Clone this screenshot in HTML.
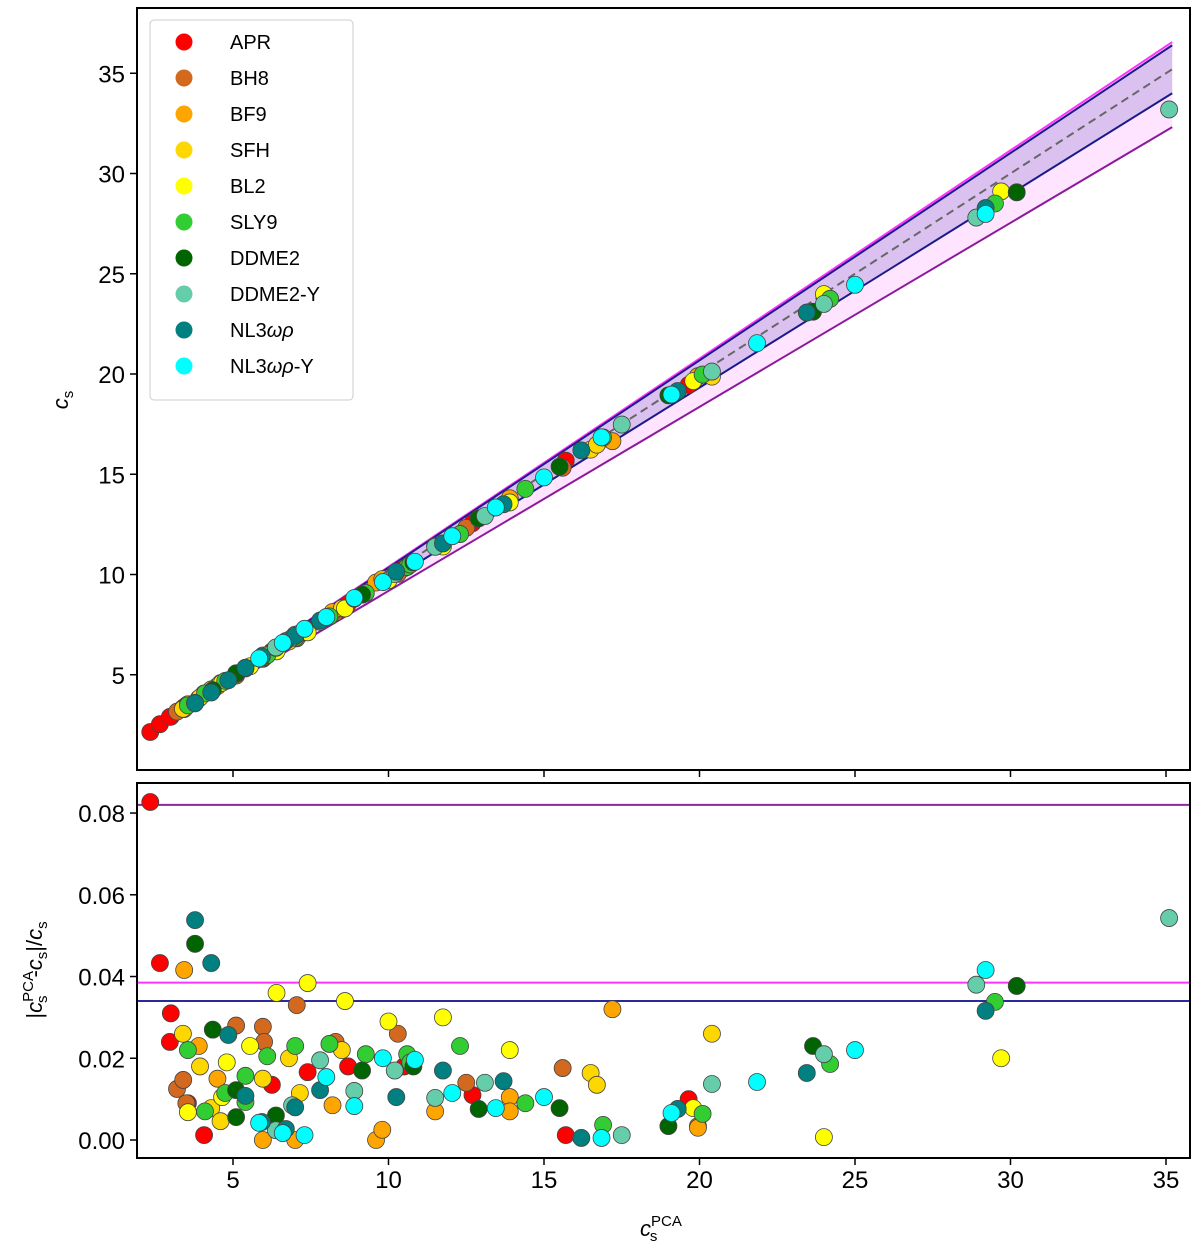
<!DOCTYPE html>
<html><head><meta charset="utf-8"><style>
html,body{margin:0;padding:0;background:#fff;}
svg{display:block;font-family:"Liberation Sans","DejaVu Sans",sans-serif;}
</style></head><body>
<svg id="chart" width="1200" height="1254" viewBox="0 0 1200 1254" xmlns="http://www.w3.org/2000/svg"></svg>
<script>
// ---- data ----
const eosNames = ["APR","BH8","BF9","SFH","BL2","SLY9","DDME2","DDME2-Y","NL3\u03c9\u03c1","NL3\u03c9\u03c1-Y"];
const eosColors = ["#ff0000","#d2691e","#ffa500","#ffd700","#ffff00","#32cd32","#006400","#66cdaa","#008080","#00ffff"];
const xAPR=[2.34,2.65,3.0,2.97,3.55,4.07,6.25,7.4,8.7,10.5,12.7,15.7,19.65];
const eAPR=[0.0827,0.0433,0.031,0.024,0.009,0.0012,0.0135,0.0166,0.018,0.018,0.011,0.0012,0.010];
const xBH8=[3.2,3.4,3.5,5.1,5.96,6.0,7.05,8.3,10.3,12.5,15.6,19.95];
const eBH8=[0.0125,0.0147,0.009,0.028,0.0277,0.024,0.033,0.024,0.026,0.014,0.0176,0.0034];
const xBF9=[3.43,3.9,4.5,5.96,7.0,8.2,9.6,9.8,11.5,13.9,13.9,17.2,19.95];
const eBF9=[0.0416,0.023,0.015,0.0,0.0,0.0085,0.0,0.0025,0.007,0.0105,0.007,0.032,0.003];
const xSFH=[3.39,3.94,4.3,4.6,5.96,6.8,7.15,8.5,16.5,16.7,20.4];
const eSFH=[0.026,0.018,0.0078,0.0046,0.015,0.020,0.0115,0.022,0.0164,0.0135,0.026];
const xBL2=[3.55,4.65,4.8,5.55,6.4,7.4,8.6,10.0,11.75,13.9,19.8,24.0,29.7];
const eBL2=[0.0068,0.0105,0.019,0.023,0.036,0.0384,0.034,0.029,0.030,0.022,0.0078,0.0007,0.020];
const xSLY9=[3.55,4.1,4.75,5.4,5.4,6.1,7.0,8.1,9.27,10.6,10.7,12.3,14.4,16.9,20.1,24.2,29.5];
const eSLY9=[0.022,0.007,0.0115,0.0157,0.0093,0.0205,0.023,0.0235,0.021,0.021,0.019,0.023,0.009,0.0037,0.0064,0.0186,0.0338];
const xDDME2=[3.78,4.35,5.1,5.1,6.38,9.15,10.8,12.9,15.5,19.0,23.65,30.2];
const eDDME2=[0.048,0.027,0.0122,0.0056,0.006,0.017,0.018,0.0076,0.0078,0.0034,0.023,0.0377];
const xDDME2Y=[6.38,6.9,7.8,8.9,10.2,11.5,13.1,17.5,20.4,24.0,28.9,35.1];
const eDDME2Y=[0.0024,0.0085,0.0195,0.012,0.017,0.0103,0.014,0.0012,0.0137,0.021,0.038,0.0543];
const xNL3=[3.78,4.3,4.85,5.4,5.93,6.7,7.0,7.8,10.25,11.75,13.7,16.2,19.3,23.45,29.2];
const eNL3=[0.0538,0.0433,0.0257,0.0108,0.0044,0.0027,0.008,0.0122,0.0105,0.017,0.0144,0.0005,0.0076,0.0164,0.0316];
const xNL3Y=[5.84,6.6,7.3,8.0,8.9,9.82,10.85,12.05,13.45,15.0,16.85,19.1,21.85,25.0,29.2];
const eNL3Y=[0.0042,0.0017,0.0012,0.0154,0.0083,0.020,0.0196,0.0115,0.0078,0.0105,0.0005,0.0066,0.0142,0.022,0.0416];
const seriesX=[xAPR,xBH8,xBF9,xSFH,xBL2,xSLY9,xDDME2,xDDME2Y,xNL3,xNL3Y];
const seriesE=[eAPR,eBH8,eBF9,eSFH,eBL2,eSLY9,eDDME2,eDDME2Y,eNL3,eNL3Y];
const xTicks=[5,10,15,20,25,30,35];
const yTopTicks=[5,10,15,20,25,30,35];
const yBotTicks=[0.00,0.02,0.04,0.06,0.08];
const errLines=[0.0385,0.034,0.082];

// ---- axes ----
const L=137,R=1190,T1=8,B1=770,T2=783,B2=1158;
const sx=v=>77.5+31.1*v;
const sy1=v=>775-20.05*v;
const sy2=v=>1140-4087*v;
const NS="http://www.w3.org/2000/svg";
const svg=document.getElementById('chart');
function mk(tag,attrs,parent){const e=document.createElementNS(NS,tag);for(const k in attrs)e.setAttribute(k,attrs[k]);(parent||svg).appendChild(e);return e;}

const defs=mk('defs',{});
const c1=mk('clipPath',{id:'c1'},defs);mk('rect',{x:L,y:T1,width:R-L,height:B1-T1},c1);
const c2=mk('clipPath',{id:'c2'},defs);mk('rect',{x:L,y:T2,width:R-L,height:B2-T2},c2);

const gTop=mk('g',{'clip-path':'url(#c1)'});


const x0=2.3,x1=35.2;
function band(lo,hi,fill,name){
  const d=`M${sx(x0)},${sy1(x0*lo)} L${sx(x1)},${sy1(x1*lo)} L${sx(x1)},${sy1(x1*hi)} L${sx(x0)},${sy1(x0*hi)} Z`;
  const p=mk('path',{d:d,fill:fill},gTop);
  
  
}
band(1-errLines[2],1+errLines[0],'rgba(255,120,255,0.2)','error-band-outer');
band(1-errLines[1],1+errLines[1],'rgba(90,70,180,0.22)','error-band-inner');
function line(f,stroke,w,name,dash){
  const l=mk('line',{x1:sx(x0),y1:sy1(x0*f),x2:sx(x1),y2:sy1(x1*f),stroke:stroke,'stroke-width':w},gTop);
  if(dash)l.setAttribute('stroke-dasharray',dash);
  
  
}
line(1+errLines[0],'#ff33ff',2,'upper-magenta-line');
line(1+errLines[1],'#1a1a8c',2,'upper-blue-line');
line(1-errLines[1],'#1a1a8c',2,'lower-blue-line');
line(1-errLines[2],'#8b1a9b',2,'lower-purple-line');
line(1,'#666',2,'identity-dashed-line','8,5');

const gBot=mk('g',{'clip-path':'url(#c2)'});


const hl=[['#ff33ff','magenta-threshold-line'],['#2a2a99','blue-threshold-line'],['#8b2a9b','purple-threshold-line']];
errLines.forEach((v,i)=>{
  const l=mk('line',{x1:L,x2:R,y1:sy2(v),y2:sy2(v),stroke:hl[i][0],'stroke-width':2},gBot);
  
  
});

seriesX.forEach((xs,s)=>{
  xs.forEach((xv,i)=>{
    const ev=seriesE[s][i];
    const c=mk('circle',{cx:sx(xv),cy:sy1(xv*(1-ev)),r:8.5,fill:eosColors[s],stroke:'#444','stroke-width':0.8},gTop);
    
    
    const d=mk('circle',{cx:sx(xv),cy:sy2(ev),r:8.5,fill:eosColors[s],stroke:'#444','stroke-width':0.8},gBot);
    
    
  });
});

const f1=mk('rect',{x:L,y:T1,width:R-L,height:B1-T1,fill:'none',stroke:'#000','stroke-width':2});

const f2=mk('rect',{x:L,y:T2,width:R-L,height:B2-T2,fill:'none',stroke:'#000','stroke-width':2});


xTicks.forEach(v=>{
  const a=mk('line',{x1:sx(v),x2:sx(v),y1:B1,y2:B1+7,stroke:'#000','stroke-width':1.5});
  
  const b=mk('line',{x1:sx(v),x2:sx(v),y1:B2,y2:B2+7,stroke:'#000','stroke-width':1.5});
  
  const t=mk('text',{x:sx(v),y:B2+30,'text-anchor':'middle','font-size':24});
  t.textContent=v;
});
yTopTicks.forEach(v=>{
  const a=mk('line',{x1:L-7,x2:L,y1:sy1(v),y2:sy1(v),stroke:'#000','stroke-width':1.5});
  
  const t=mk('text',{x:L-12,y:sy1(v)+9,'text-anchor':'end','font-size':24});
  t.textContent=v;
});
yBotTicks.forEach(v=>{
  const a=mk('line',{x1:L-7,x2:L,y1:sy2(v),y2:sy2(v),stroke:'#000','stroke-width':1.5});
  
  const t=mk('text',{x:L-12,y:sy2(v)+9,'text-anchor':'end','font-size':24});
  t.textContent=v.toFixed(2);
});

const lg=mk('g',{});

mk('rect',{x:150,y:20,width:203,height:380,rx:4,fill:'#fff','fill-opacity':0.85,stroke:'#ccc','stroke-width':1},lg);
eosNames.forEach((n,i)=>{
  const y=42+i*36;
  const c=mk('circle',{cx:184,cy:y,r:8.5,fill:eosColors[i]},lg);
  
  const t=mk('text',{x:230,y:y+7,'font-size':20},lg);
  if(n.indexOf('\u03c9')>=0){
    const parts=n.split('\u03c9\u03c1');
    const a=mk('tspan',{},t);a.textContent=parts[0];
    const b=mk('tspan',{'font-style':'italic'},t);b.textContent='\u03c9\u03c1';
    const c2s=mk('tspan',{},t);c2s.textContent=parts[1];
  } else t.textContent=n;
  
});
</script>
<div style="position:absolute;left:0;top:0;width:1200px;height:1254px;pointer-events:none;">
<svg width="1200" height="1254" style="position:absolute;left:0;top:0;font-family:'Liberation Sans',sans-serif;">
<text transform="translate(68,400) rotate(-90)" text-anchor="middle" font-size="22" font-style="italic">c<tspan font-size="15" dy="5" font-style="normal">s</tspan></text>
<text transform="translate(42,970) rotate(-90)" text-anchor="middle" font-size="22">|<tspan font-style="italic">c</tspan><tspan font-size="15" dy="-9">PCA</tspan><tspan font-size="15" dx="-32" dy="14">s</tspan><tspan dx="18" dy="-5">-</tspan><tspan font-style="italic">c</tspan><tspan font-size="15" dy="5">s</tspan><tspan dy="-5">|/</tspan><tspan font-style="italic">c</tspan><tspan font-size="15" dy="5">s</tspan></text>
<text x="640" y="1236" font-size="22"><tspan font-style="italic">c</tspan><tspan font-size="15" dy="-10">PCA</tspan><tspan font-size="15" dx="-32" dy="15">s</tspan></text>
</svg>
</div>
</body></html>
